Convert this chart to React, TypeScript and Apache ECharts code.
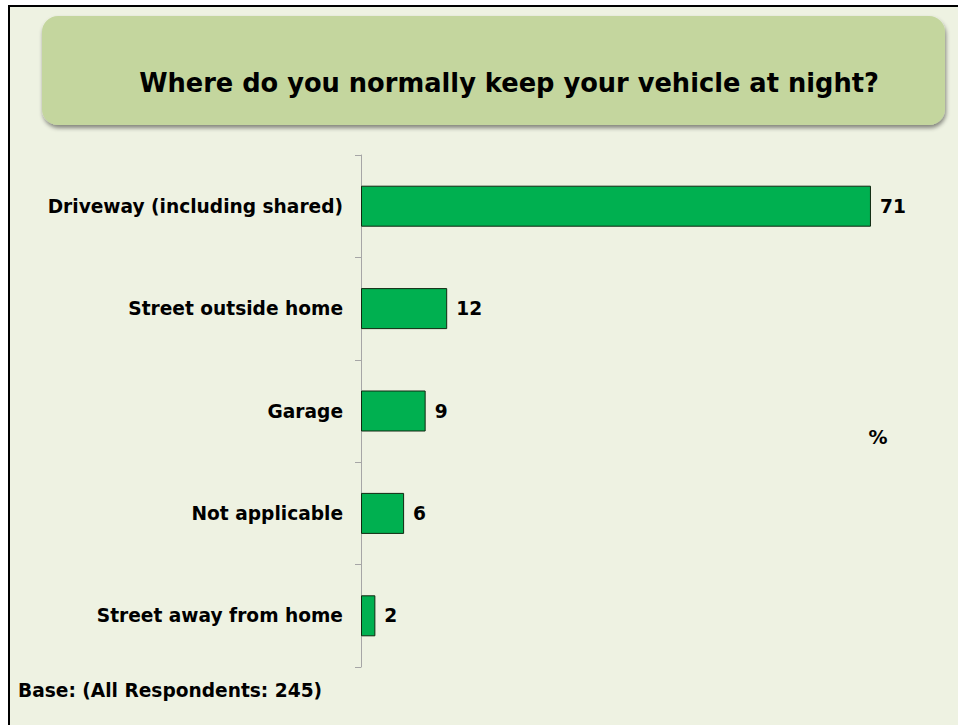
import React, { useEffect, useRef } from "react";
import * as echarts from "echarts";

const categories = [
  "Driveway (including shared)",
  "Street outside home",
  "Garage",
  "Not applicable",
  "Street away from home",
];
const values = [71, 12, 9, 6, 2];
const titleText = "Where do you normally keep your vehicle at night?";
const baseText = "Base: (All Respondents: 245)";
const unitText = "%";

const FONT = "'DejaVu Sans', Verdana, sans-serif";

export default function App() {
  const ref = useRef<HTMLDivElement>(null);
  useEffect(() => {
    if (!ref.current) return;
    const chart = echarts.init(ref.current, null, { renderer: "svg" });
    chart.setOption({
      animation: false,
      backgroundColor: "#ffffff",
      graphic: [
        {
          type: "rect",
          z: -10,
          shape: { x: 9, y: 6, width: 960, height: 730 },
          style: { fill: "#EEF2E2", stroke: "#000000", lineWidth: 2 },
          silent: true,
        },
        {
          type: "rect",
          z: -5,
          shape: { x: 42, y: 16, width: 903, height: 109, r: 16 },
          style: {
            fill: "#C4D69E",
            shadowBlur: 4,
            shadowOffsetY: 3,
            shadowOffsetX: 1,
            shadowColor: "rgba(0,0,0,0.45)",
          },
          silent: true,
        },
        {
          type: "text",
          x: 509,
          y: 83,
          style: {
            text: titleText,
            font: `bold 25.7px ${FONT}`,
            fill: "#000000",
            align: "center",
            verticalAlign: "middle",
          },
        },
        {
          type: "text",
          x: 878,
          y: 437,
          style: {
            text: unitText,
            font: `bold 19px ${FONT}`,
            fill: "#000000",
            align: "center",
            verticalAlign: "middle",
          },
        },
        {
          type: "text",
          x: 18,
          y: 690,
          style: {
            text: baseText,
            font: `bold 18.6px ${FONT}`,
            fill: "#000000",
            align: "left",
            verticalAlign: "middle",
          },
        },
      ],
      grid: { left: 361, top: 155, width: 574.6, height: 512 },
      xAxis: {
        type: "value",
        min: 0,
        max: 80,
        show: false,
      },
      yAxis: {
        type: "category",
        data: categories,
        inverse: true,
        axisLine: { show: true, lineStyle: { color: "#A6A6A6", width: 1 } },
        axisTick: { show: true, length: 6, lineStyle: { color: "#A6A6A6" } },
        axisLabel: {
          margin: 18,
          color: "#000000",
          fontFamily: FONT,
          fontWeight: "bold",
          fontSize: 18.6,
        },
      },
      series: [
        {
          type: "bar",
          data: values,
          barWidth: 41,
          itemStyle: { color: "#00B050", borderColor: "#102810", borderWidth: 1 },
          label: {
            show: true,
            position: "right",
            distance: 9,
            color: "#000000",
            fontFamily: FONT,
            fontWeight: "bold",
            fontSize: 18.6,
          },
        },
      ],
    });
    return () => chart.dispose();
  }, []);
  return (
    <div
      ref={ref}
      style={{ position: "absolute", left: 0, top: 0, width: 958, height: 725 }}
    />
  );
}
